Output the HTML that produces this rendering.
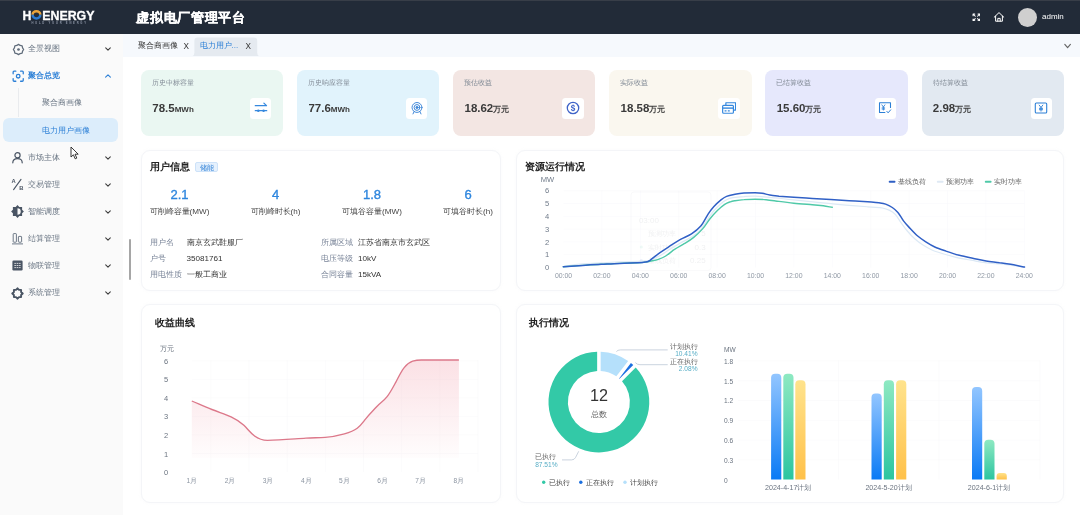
<!DOCTYPE html>
<html lang="zh">
<head>
<meta charset="utf-8">
<title>虚拟电厂管理平台</title>
<style>
*{box-sizing:border-box;margin:0;padding:0}
html,body{width:1080px;height:515px;overflow:hidden;background:#fff}
body{will-change:transform;font-family:"Liberation Sans",sans-serif;color:#333;position:relative;font-size:8px;line-height:1}
.abs{position:absolute}
#hdr{position:absolute;left:0;top:0;width:1080px;height:34px;background:#222b38}
#hdr .title{position:absolute;left:136.4px;top:9.5px;font-size:13.4px;font-weight:bold;color:#fff;line-height:15px;white-space:nowrap;letter-spacing:0.65px;-webkit-text-stroke:0.25px #fff}
#side{position:absolute;left:0;top:34px;width:122.5px;height:481px;background:#fafafa}
#tabs{position:absolute;left:122.5px;top:34px;width:957.5px;height:22.6px;background:#f6f9fd}
.mi{position:absolute;left:0;width:122px;height:27px;margin-top:0.1px}
.mi .tx{position:absolute;left:28px;top:9px;font-size:8px;line-height:9px;color:#687482;white-space:nowrap}
.mi svg.ic{position:absolute;left:11.4px;top:7.1px;width:13px;height:13px}
.mi svg.ch{position:absolute;left:104px;top:10px;width:8px;height:8px}
.card{position:absolute;top:69.8px;width:142.3px;height:66px;border-radius:8px}
.card .lb{position:absolute;left:11px;top:9.2px;font-size:6.65px;line-height:8px;color:#828b96;white-space:nowrap}
.card .vl{position:absolute;left:11.3px;top:31.2px;font-size:11.5px;line-height:14px;font-weight:bold;color:#3a3a3a;white-space:nowrap}
.card .vl small{font-size:8px;font-weight:bold}
.card .ib{position:absolute;left:109.2px;top:27.9px;width:21.2px;height:21px;border-radius:3.5px;background:#fff}
.card .ib svg{position:absolute;left:3.6px;top:3.5px;width:14px;height:14px}
.panel{position:absolute;background:#fff;border:1px solid #f4f5f8;border-radius:9px;box-shadow:0 0 3px rgba(215,220,230,.15)}
.pt{position:absolute;font-size:10px;line-height:12px;font-weight:bold;color:#222;white-space:nowrap}
.t{position:absolute;white-space:nowrap}
.c{transform:translateX(-50%)}
.r{transform:translateX(-100%)}
.num{font-size:13px;line-height:14px;color:#2e86de;-webkit-text-stroke:0.35px #2e86de;top:187.6px}
.lat{font-size:8.1px}
</style>
</head>
<body>
<!-- HEADER -->
<div id="hdr">
  <div class="abs" style="left:0;top:0;width:1080px;height:1px;background:#383e48"></div>
  <svg class="abs" style="left:20px;top:6px" width="80" height="22" viewBox="0 0 80 22">
    <text x="2.6" y="13.5" font-family="Liberation Sans, sans-serif" font-weight="bold" font-size="12.3" fill="#fff" stroke="#fff" stroke-width="0.3">H</text>
    <path d="M12.6 8.8 A3.85 3.6 0 0 1 20.3 8.8" fill="none" stroke="#eaa43c" stroke-width="2.5"/>
    <path d="M12.6 8.8 A3.85 3.6 0 0 0 20.3 8.8" fill="none" stroke="#2b7bd2" stroke-width="2.5"/>
    <text x="22.2" y="13.5" font-family="Liberation Sans, sans-serif" font-weight="bold" font-size="12.3" fill="#fff" stroke="#fff" stroke-width="0.3" textLength="52.3" lengthAdjust="spacingAndGlyphs">ENERGY</text>
    <text x="11.4" y="17.9" font-family="Liberation Sans, sans-serif" font-weight="bold" font-size="2.7" fill="#8f98a8" textLength="54.6" lengthAdjust="spacing">HOLD YOUR ENERGY</text>
  </svg>
  <div class="title">虚拟电厂管理平台</div>
  <!-- fullscreen -->
  <svg class="abs" style="left:971.5px;top:12.7px" width="8.8" height="8.8" viewBox="0 0 10 10" fill="none" stroke="#fff" stroke-width="1.15" stroke-linecap="round" stroke-linejoin="round">
    <path d="M1.2 3.2V1.2H3.2M1.4 1.4L3.7 3.7M6.8 1.2H8.8V3.2M8.6 1.4L6.3 3.7M1.2 6.8V8.8H3.2M1.4 8.6L3.7 6.3M6.8 8.8H8.8V6.8M8.6 8.6L6.3 6.3"/>
  </svg>
  <!-- home -->
  <svg class="abs" style="left:993.1px;top:11.1px" width="12" height="12" viewBox="0 0 12 12" fill="none" stroke="#fff" stroke-width="1" stroke-linejoin="round" stroke-linecap="round">
    <path d="M1.2 6.2L6 1.6L10.8 6.2M2.6 5.2V10.2H9.4V5.2M4.8 10.2V7.4H7.2V10.2"/>
  </svg>
  <div class="abs" style="left:1017.5px;top:7.5px;width:19px;height:19px;border-radius:50%;background:#cfcfcf"></div>
  <div class="t" style="left:1042px;top:12px;font-size:8px;line-height:10px;color:#fff">admin</div>
</div>

<!-- SIDEBAR -->
<div id="side">
  <div class="mi" style="top:1.00px">
    <svg class="ic" style="top:7.6px;left:11.8px" viewBox="0 0 13 13" fill="none" stroke="#5f6b7a" stroke-width="1.25" stroke-linejoin="round"><path d="M6.50 1.35L8.18 2.43L10.14 2.86L10.57 4.82L11.65 6.50L10.57 8.18L10.14 10.14L8.18 10.57L6.50 11.65L4.82 10.57L2.86 10.14L2.43 8.18L1.35 6.50L2.43 4.82L2.86 2.86L4.82 2.43Z"/><circle cx="6.5" cy="6.5" r="1.35" fill="#5f6b7a" stroke="none"/></svg>
    <div class="tx">全景视图</div>
    <svg class="ch" viewBox="0 0 8 8" fill="none" stroke="#3c3c3c" stroke-width="1.1" stroke-linecap="round" stroke-linejoin="round"><path d="M1.7 2.9L4 5.1L6.3 2.9"/></svg>
  </div>
  <div class="mi" style="top:28.15px">
    <svg class="ic" style="top:7.8px;left:12px;width:12.4px;height:12.4px" viewBox="0 0 13 13" fill="none" stroke="#2b7fd6" stroke-width="1.35" stroke-linecap="round"><path d="M1.2 4V2.2Q1.2 1.2 2.2 1.2H4M9 1.2H10.8Q11.8 1.2 11.8 2.2V4M11.8 9V10.8Q11.8 11.8 10.8 11.8H9M4 11.8H2.2Q1.2 11.8 1.2 10.8V9"/><circle cx="6.5" cy="6.5" r="1.9"/></svg>
    <div class="tx" style="color:#2b7fd6;font-weight:bold">聚合总览</div>
    <svg class="ch" viewBox="0 0 8 8" fill="none" stroke="#2b7fd6" stroke-width="1.1" stroke-linecap="round" stroke-linejoin="round"><path d="M1.6 5.2L4 2.8L6.4 5.2"/></svg>
  </div>
  <div class="abs" style="left:18px;top:54px;width:1px;height:29px;background:#e9ebee"></div>
  <div class="mi" style="top:55.30px"><div class="tx" style="left:41.6px">聚合商画像</div></div>
  <div class="abs" style="left:3px;top:84px;width:115px;height:23.5px;border-radius:6px;background:#dcedfb"></div>
  <div class="mi" style="top:82.45px"><div class="tx" style="left:41.6px;color:#2b7fd6">电力用户画像</div></div>
  <div class="mi" style="top:109.60px">
    <svg class="ic" viewBox="0 0 13 13" fill="none" stroke="#4a5564" stroke-width="1.2" stroke-linecap="round"><circle cx="6.5" cy="4.3" r="2.6"/><path d="M1.8 11.8Q1.8 7.6 6.5 7.6Q11.2 7.6 11.2 11.8"/></svg>
    <div class="tx">市场主体</div>
    <svg class="ch" viewBox="0 0 8 8" fill="none" stroke="#3c3c3c" stroke-width="1.1" stroke-linecap="round" stroke-linejoin="round"><path d="M1.7 2.9L4 5.1L6.3 2.9"/></svg>
  </div>
  <div class="mi" style="top:136.75px">
    <svg class="ic" viewBox="0 0 13 13" fill="none" stroke="#4a5564" stroke-width="1.1" stroke-linecap="round"><path d="M2.6 11.6L10 1.4"/><text x="0.6" y="5" font-family="Liberation Sans, sans-serif" font-weight="bold" font-size="5.8" fill="#4a5564" stroke="none">A</text><text x="8.2" y="12.4" font-family="Liberation Sans, sans-serif" font-weight="bold" font-size="5.8" fill="#4a5564" stroke="none">B</text></svg>
    <div class="tx">交易管理</div>
    <svg class="ch" viewBox="0 0 8 8" fill="none" stroke="#3c3c3c" stroke-width="1.1" stroke-linecap="round" stroke-linejoin="round"><path d="M1.7 2.9L4 5.1L6.3 2.9"/></svg>
  </div>
  <div class="mi" style="top:163.90px">
    <svg class="ic" viewBox="0 0 13 13"><path d="M6.5 0.1L8.3 1.9H11.1V4.7L12.9 6.5L11.1 8.3V11.1H8.3L6.5 12.9L4.7 11.1H1.9V8.3L0.1 6.5L1.9 4.7V1.9H4.7Z" fill="#4a5564"/><path d="M6.5 3.3A3.2 3.2 0 0 1 6.5 9.7Z" fill="#fafafa"/></svg>
    <div class="tx">智能调度</div>
    <svg class="ch" viewBox="0 0 8 8" fill="none" stroke="#3c3c3c" stroke-width="1.1" stroke-linecap="round" stroke-linejoin="round"><path d="M1.7 2.9L4 5.1L6.3 2.9"/></svg>
  </div>
  <div class="mi" style="top:191.05px">
    <svg class="ic" viewBox="0 0 13 13" fill="none" stroke="#5f6b7a" stroke-width="0.9"><rect x="2.2" y="1.6" width="3.2" height="8.6" rx="0.6"/><rect x="7.4" y="4.4" width="3.2" height="5.8" rx="0.6"/><path d="M1 11.9H12"/></svg>
    <div class="tx">结算管理</div>
    <svg class="ch" viewBox="0 0 8 8" fill="none" stroke="#3c3c3c" stroke-width="1.1" stroke-linecap="round" stroke-linejoin="round"><path d="M1.7 2.9L4 5.1L6.3 2.9"/></svg>
  </div>
  <div class="mi" style="top:218.20px">
    <svg class="ic" viewBox="0 0 13 13"><rect x="1.4" y="1.6" width="10.2" height="9.8" rx="1.2" fill="#4a5564"/><path d="M3.4 4.4H9.6M3.4 6.5H9.6M3.4 8.6H9.6" stroke="#fafafa" stroke-width="0.8"/><path d="M5.4 3.4V9.6M7.6 3.4V9.6" stroke="#4a5564" stroke-width="0.7"/></svg>
    <div class="tx">物联管理</div>
    <svg class="ch" viewBox="0 0 8 8" fill="none" stroke="#3c3c3c" stroke-width="1.1" stroke-linecap="round" stroke-linejoin="round"><path d="M1.7 2.9L4 5.1L6.3 2.9"/></svg>
  </div>
  <div class="mi" style="top:245.35px">
    <svg class="ic" viewBox="0 0 13 13" fill="none" stroke="#4a5564" stroke-width="1.9" stroke-linejoin="round"><path d="M6.5 1.3L8 2.9H10.1V5L11.7 6.5L10.1 8V10.1H8L6.5 11.7L5 10.1H2.9V8L1.3 6.5L2.9 5V2.9H5Z"/></svg>
    <div class="tx">系统管理</div>
    <svg class="ch" viewBox="0 0 8 8" fill="none" stroke="#3c3c3c" stroke-width="1.1" stroke-linecap="round" stroke-linejoin="round"><path d="M1.7 2.9L4 5.1L6.3 2.9"/></svg>
  </div>
  <!-- mouse cursor -->
  <svg class="abs" style="left:70px;top:112px" width="10" height="14" viewBox="0 0 10 14"><path d="M1 1V11L3.4 8.8L5.2 12.8L6.8 12.1L5 8.2H8.2Z" fill="#fff" stroke="#222" stroke-width="0.9" stroke-linejoin="round"/></svg>
</div>

<!-- TABS -->
<div id="tabs">
  <div class="t" style="left:15px;top:7px;font-size:8px;line-height:9px;color:#333">聚合商画像</div>
  <div class="t" style="left:60.9px;top:7.9px;font-size:8.2px;line-height:9px;color:#333">X</div>
  <svg class="abs" style="left:68px;top:3px" width="70" height="19.3" viewBox="0 0 70 19.3"><path d="M0.8 19.3 Q3.4 18.6 3.4 15.6 V3.6 Q3.4 0.4 6.6 0.4 H63 Q66.2 0.4 66.2 3.6 V15.6 Q66.2 18.6 68.8 19.3 Z" fill="#e5eaf0"/></svg>
  <div class="t" style="left:77px;top:7px;font-size:8px;line-height:9px;color:#2b7fd6">电力用户...</div>
  <div class="t" style="left:123.1px;top:7.9px;font-size:8.2px;line-height:9px;color:#333">X</div>
  <svg class="abs" style="left:940px;top:8px" width="9" height="8" viewBox="0 0 9 8" fill="none" stroke="#666" stroke-width="1.15" stroke-linecap="round" stroke-linejoin="round"><path d="M1.8 2.4L4.6 5.7L7.4 2.4"/></svg>
</div>

<!-- scrollbar thumb -->
<div class="abs" style="left:128.7px;top:239px;width:2px;height:40.5px;background:#a6a6a6;border-radius:1px"></div>

<!-- KPI CARDS -->
<div class="card" style="left:141px;background:#eaf7f2">
  <div class="lb">历史中标容量</div><div class="vl">78.5<small>MWh</small></div>
  <div class="ib"><svg viewBox="0 0 13 13" fill="none" stroke="#3588de" stroke-width="1.2" stroke-linecap="round" stroke-linejoin="round"><path d="M1.2 4.3H11.6L9.2 2M11.8 9H1.2"/><circle cx="4" cy="9" r="1.15" fill="#3588de" stroke="none"/><circle cx="8.9" cy="9" r="1.15" fill="#3588de" stroke="none"/></svg></div>
</div>
<div class="card" style="left:297.1px;background:#e1f3fc">
  <div class="lb">历史响应容量</div><div class="vl">77.6<small>MWh</small></div>
  <div class="ib"><svg viewBox="0 0 13 13" fill="none" stroke="#3d86d8" stroke-width="0.9" stroke-linecap="round"><circle cx="6.5" cy="6" r="4.6"/><circle cx="6.5" cy="6" r="2.7"/><circle cx="6.5" cy="6" r="1" fill="#3d86d8"/><path d="M3.8 9.8L2.8 12M9.2 9.8L10.2 12"/></svg></div>
</div>
<div class="card" style="left:453.2px;background:#f3e6e3">
  <div class="lb">预估收益</div><div class="vl">18.62<small>万元</small></div>
  <div class="ib"><svg viewBox="0 0 13 13" fill="none" stroke="#3f63c8" stroke-width="1.2"><circle cx="6.5" cy="6.5" r="5.3"/><text x="6.5" y="9.3" text-anchor="middle" font-family="Liberation Sans, sans-serif" font-weight="bold" font-size="7.6" fill="#3f63c8" stroke="none">$</text></svg></div>
</div>
<div class="card" style="left:609.3px;background:#faf7ef">
  <div class="lb">实际收益</div><div class="vl">18.58<small>万元</small></div>
  <div class="ib"><svg viewBox="0 0 13 13" fill="none" stroke="#3588de" stroke-width="1.1" stroke-linejoin="round"><path d="M3.6 3.8V1.6H12.6V8.4H10.6"/><rect x="0.6" y="4" width="10" height="7.4" rx="0.9"/><path d="M0.6 6.6H10.6" stroke-width="1.3"/><path d="M2.4 9.2H4.2M5.4 9.2H7.2" stroke-width="1.2"/></svg></div>
</div>
<div class="card" style="left:765.4px;background:#e6e8fc">
  <div class="lb">已结算收益</div><div class="vl">15.60<small>万元</small></div>
  <div class="ib"><svg viewBox="0 0 13 13" fill="none" stroke="#2b7fd6" stroke-width="1" stroke-linejoin="round" stroke-linecap="round"><path d="M11.6 6V1.6H1.4V10.6H6.4"/><path d="M3.6 3.6L5 5.6L6.4 3.6M5 5.6V8.4M3.8 6.4H6.2M3.8 7.5H6.2" stroke-width="0.8"/><path d="M8.2 9.6L9.4 11L11.8 8.2" stroke-width="0.9"/></svg></div>
</div>
<div class="card" style="left:921.5px;background:#e2e9f1">
  <div class="lb">待结算收益</div><div class="vl">2.98<small>万元</small></div>
  <div class="ib"><svg viewBox="0 0 13 13" fill="none" stroke="#2b7fd6" stroke-width="1" stroke-linejoin="round" stroke-linecap="round"><rect x="1.2" y="1.8" width="10.6" height="9.4" rx="1"/><path d="M4.8 3.8L6.5 6L8.2 3.8M6.5 6V9.4M5 6.8H8M5 8.1H8" stroke-width="0.85"/></svg></div>
</div>

<!-- USER INFO PANEL -->
<div class="panel" style="left:140.6px;top:149.5px;width:360.4px;height:141px"></div>
<div class="pt" style="left:150px;top:160.5px">用户信息</div>
<div class="abs" style="left:195px;top:162.3px;width:22.5px;height:10px;border-radius:2px;background:#e6f1fd;border:0.5px solid #cde2f9"></div>
<div class="t" style="left:199.5px;top:163.5px;font-size:6.5px;line-height:7px;color:#2b7fd6">储能</div>
<div class="t c num" style="left:179.5px">2.1</div>
<div class="t c num" style="left:275.5px">4</div>
<div class="t c num" style="left:372px">1.8</div>
<div class="t c num" style="left:468px">6</div>
<div class="t c" style="left:179.5px;top:207.3px;font-size:8.1px;line-height:9px;color:#444">可削峰容量(MW)</div>
<div class="t c" style="left:275.5px;top:207.3px;font-size:8.1px;line-height:9px;color:#444">可削峰时长(h)</div>
<div class="t c" style="left:372px;top:207.3px;font-size:8.1px;line-height:9px;color:#444">可填谷容量(MW)</div>
<div class="t c" style="left:468px;top:207.3px;font-size:8.1px;line-height:9px;color:#444">可填谷时长(h)</div>
<div class="t" style="left:150px;top:237.5px;font-size:7.5px;line-height:9px;color:#7a8599">用户名</div>
<div class="t" style="left:186.5px;top:237.5px;font-size:7.5px;line-height:9px;color:#333">南京玄武鞋服厂</div>
<div class="t" style="left:150px;top:253.5px;font-size:7.5px;line-height:9px;color:#7a8599">户号</div>
<div class="t" style="left:186.5px;top:253.5px;font-size:7.5px;line-height:9px;color:#333"><span class="lat">35081761</span></div>
<div class="t" style="left:150px;top:269.5px;font-size:7.5px;line-height:9px;color:#7a8599">用电性质</div>
<div class="t" style="left:186.5px;top:269.5px;font-size:7.5px;line-height:9px;color:#333">一般工商业</div>
<div class="t" style="left:321px;top:237.5px;font-size:7.5px;line-height:9px;color:#7a8599">所属区域</div>
<div class="t" style="left:358px;top:237.5px;font-size:7.5px;line-height:9px;color:#333">江苏省南京市玄武区</div>
<div class="t" style="left:321px;top:253.5px;font-size:7.5px;line-height:9px;color:#7a8599">电压等级</div>
<div class="t" style="left:358px;top:253.5px;font-size:7.5px;line-height:9px;color:#333"><span class="lat">10kV</span></div>
<div class="t" style="left:321px;top:269.5px;font-size:7.5px;line-height:9px;color:#7a8599">合同容量</div>
<div class="t" style="left:358px;top:269.5px;font-size:7.5px;line-height:9px;color:#333"><span class="lat">15kVA</span></div>

<!-- RESOURCE PANEL -->
<div class="panel" style="left:516px;top:149.5px;width:548px;height:141px"></div>
<div class="pt" style="left:525px;top:160.5px">资源运行情况</div>
<svg class="abs" style="left:516px;top:150px" width="548" height="141" viewBox="516 150 548 141">
  <g font-family="Liberation Sans, sans-serif" font-size="7.6" fill="#6f7a89" text-anchor="middle">
    <text x="547.5" y="181.7">MW</text>
    <text x="547" y="193.4">6</text>
    <text x="547" y="206.2">5</text>
    <text x="547" y="219.0">4</text>
    <text x="547" y="231.8">3</text>
    <text x="547" y="244.5">2</text>
    <text x="547" y="257.3">1</text>
    <text x="547" y="270.1">0</text>
  </g>
  <g font-family="Liberation Sans, sans-serif" font-size="6.9" fill="#8f98a4" text-anchor="middle">
    <text x="563.5" y="278">00:00</text>
    <text x="601.9" y="278">02:00</text>
    <text x="640.3" y="278">04:00</text>
    <text x="678.7" y="278">06:00</text>
    <text x="717.1" y="278">08:00</text>
    <text x="755.5" y="278">10:00</text>
    <text x="793.9" y="278">12:00</text>
    <text x="832.3" y="278">14:00</text>
    <text x="870.7" y="278">16:00</text>
    <text x="909.1" y="278">18:00</text>
    <text x="947.5" y="278">20:00</text>
    <text x="985.9" y="278">22:00</text>
    <text x="1024.3" y="278">24:00</text>
  </g>
  <g stroke="#f8f9fb" stroke-width="0.6">
    <path d="M563.5 190.7H1024.3M563.5 203.5H1024.3M563.5 216.3H1024.3M563.5 229.1H1024.3M563.5 241.8H1024.3M563.5 254.6H1024.3"/>
    <path d="M601.9 190.7V267.4M640.3 190.7V267.4M678.7 190.7V267.4M717.1 190.7V267.4M755.5 190.7V267.4M793.9 190.7V267.4M832.3 190.7V267.4M870.7 190.7V267.4M909.1 190.7V267.4M947.5 190.7V267.4M985.9 190.7V267.4M1024.3 190.7V267.4"/>
  </g>
  <g opacity="0.09" font-family="Liberation Sans, sans-serif" fill="#5a6270">
    <rect x="631" y="192" width="80" height="78.5" rx="3" fill="none" stroke="#7a8290" stroke-width="1" opacity="0.45"/>
    <text x="638.9" y="222.9" font-size="8">03:00</text>
    <text x="648" y="235.6" font-size="7.4">预测功率</text>
    <text x="705.7" y="235.6" font-size="8" text-anchor="end">5</text>
    <circle cx="641.3" cy="247" r="1.6" fill="#4fc9a8"/>
    <text x="648" y="249.6" font-size="7.4">实时功率</text>
    <text x="705.7" y="249.8" font-size="8" text-anchor="end">0.3</text>
    <circle cx="641.3" cy="260.5" r="1.6" fill="#3060c6"/>
    <text x="648" y="263.1" font-size="7.4">基线负荷</text>
    <text x="705.7" y="263.3" font-size="8" text-anchor="end">0.25</text>
  </g>
  <!-- predicted -->
  <path id="pred" fill="none" stroke="#dce9f5" stroke-width="1.2" stroke-linejoin="round" d="M563.3 266.7 C565.2 266.4 571.8 265.1 575.0 264.6 C578.2 264.1 578.4 264.2 582.7 263.9 C587.1 263.6 595.0 263.1 601.1 262.8 C607.2 262.5 613.5 262.1 619.6 261.9 C625.8 261.6 633.7 261.5 638.0 261.3 C642.3 261.1 643.4 261.1 645.4 260.9 C647.4 260.7 647.9 260.9 650.0 260.2 C652.1 259.5 655.1 258.4 658.3 256.6 C661.5 254.8 665.7 251.9 669.4 249.6 C673.1 247.3 676.8 245.1 680.5 243.0 C684.2 240.9 688.1 239.2 691.5 237.0 C694.9 234.8 698.0 232.7 700.8 229.6 C703.6 226.5 706.0 221.7 708.1 218.6 C710.2 215.5 711.6 213.5 713.7 211.0 C715.9 208.5 718.9 205.5 721.0 203.6 C723.1 201.7 724.6 200.8 726.6 199.8 C728.6 198.8 730.0 198.2 732.9 197.7 C735.8 197.2 740.3 196.8 744.0 196.6 C747.7 196.3 749.9 196.0 755.1 196.2 C760.3 196.4 769.0 197.3 775.4 197.9 C781.8 198.5 784.6 199.0 793.8 199.9 C803.0 200.8 818.4 202.4 830.7 203.6 C843.0 204.8 859.0 206.1 867.6 206.8 C876.2 207.5 878.7 207.4 882.4 208.0 C886.1 208.6 887.5 209.3 889.7 210.4 C891.9 211.5 893.6 212.6 895.5 214.6 C897.4 216.6 899.0 219.9 901.0 222.6 C903.0 225.3 905.0 228.3 907.3 231.0 C909.6 233.7 912.4 236.7 915.0 239.0 C917.6 241.3 920.2 243.2 923.0 245.0 C925.8 246.8 928.7 248.5 932.0 250.0 C935.3 251.5 938.8 252.5 943.0 253.8 C947.2 255.1 952.3 256.5 957.0 257.6 C961.7 258.7 966.3 259.4 971.0 260.2 C975.7 261.0 980.2 262.0 985.0 262.6 C989.8 263.2 995.2 263.6 999.5 264.0 C1003.8 264.4 1006.5 264.7 1010.7 265.2 C1014.9 265.7 1022.2 266.8 1024.5 267.1"/>
  <!-- realtime -->
  <path fill="none" stroke="#4fc9a8" stroke-width="1.4" stroke-linejoin="round" stroke-linecap="round" d="M563.3 266.7 C566.5 266.5 576.4 265.8 582.7 265.4 C589.0 265.0 595.0 264.6 601.1 264.3 C607.2 264.0 613.5 263.6 619.6 263.4 C625.8 263.1 633.7 263.0 638.0 262.8 C642.3 262.6 643.4 262.4 645.4 262.1 C647.4 261.8 647.9 261.7 650.0 261.2 C652.1 260.7 655.7 260.2 658.3 259.3 C660.9 258.4 662.9 257.7 665.7 256.0 C668.5 254.3 671.8 251.2 674.9 249.2 C678.0 247.1 681.1 245.6 684.2 243.7 C687.3 241.8 690.3 240.1 693.4 237.6 C696.5 235.1 699.8 232.1 702.6 228.9 C705.4 225.8 707.5 221.8 710.0 218.7 C712.5 215.6 714.9 212.8 717.4 210.4 C719.9 208.0 722.6 205.7 724.7 204.3 C726.9 202.9 728.6 202.4 730.3 201.8 C732.0 201.2 732.7 201.1 735.0 200.7 C737.3 200.3 740.6 199.8 744.0 199.6 C747.4 199.3 751.4 199.2 755.1 199.2 C758.8 199.2 762.1 199.3 766.1 199.7 C770.1 200.1 774.4 200.8 779.0 201.4 C783.6 202.0 788.2 202.6 793.8 203.2 C799.3 203.8 807.4 204.3 812.3 204.7 C817.2 205.1 820.0 205.4 823.3 205.8 C826.6 206.2 830.7 207.1 832.2 207.3"/>
  <!-- baseline -->
  <path fill="none" stroke="#3060c6" stroke-width="1.5" stroke-linejoin="round" stroke-linecap="round" d="M563.3 266.7 C566.5 266.5 576.4 265.8 582.7 265.4 C589.0 265.0 595.0 264.6 601.1 264.3 C607.2 264.0 613.5 263.6 619.6 263.4 C625.8 263.1 633.7 263.0 638.0 262.8 C642.3 262.6 643.4 262.5 645.4 262.1 C647.4 261.7 647.9 261.7 650.0 260.3 C652.1 258.9 655.1 256.1 658.3 253.8 C661.5 251.5 665.7 248.8 669.4 246.4 C673.1 244.0 676.8 241.5 680.5 239.4 C684.2 237.3 688.1 236.1 691.5 233.9 C694.9 231.7 698.0 229.4 700.8 226.1 C703.6 222.8 706.0 217.3 708.1 214.1 C710.2 210.9 711.6 209.2 713.7 206.8 C715.9 204.4 718.9 201.6 721.0 199.9 C723.1 198.2 724.3 197.3 726.6 196.4 C728.9 195.5 732.1 194.9 735.0 194.3 C737.9 193.8 740.6 193.4 744.0 193.1 C747.4 192.8 752.0 192.7 755.1 192.7 C758.2 192.7 760.0 192.9 762.4 193.3 C764.8 193.7 767.0 194.6 769.8 195.1 C772.6 195.6 775.0 195.8 779.0 196.2 C783.0 196.5 788.2 196.8 793.8 197.2 C799.3 197.6 806.1 198.1 812.3 198.5 C818.4 198.9 824.6 199.2 830.7 199.6 C836.9 200.0 843.1 200.3 849.2 200.7 C855.4 201.1 862.7 201.5 867.6 201.8 C872.5 202.2 875.9 202.4 878.9 202.8 C881.9 203.2 883.4 203.3 885.6 204.1 C887.8 204.9 890.2 206.1 892.3 207.5 C894.3 208.9 896.0 210.2 897.9 212.4 C899.8 214.6 901.5 218.2 903.5 220.9 C905.5 223.6 907.8 225.9 910.2 228.5 C912.6 231.1 915.4 234.1 918.0 236.3 C920.6 238.5 923.0 240.1 925.8 241.9 C928.6 243.7 931.4 245.5 934.8 247.0 C938.1 248.5 941.8 249.7 945.9 251.1 C950.0 252.5 954.8 254.1 959.3 255.3 C963.8 256.5 968.2 257.3 972.7 258.2 C977.2 259.1 981.6 260.1 986.1 260.9 C990.6 261.6 995.4 262.1 999.5 262.7 C1003.6 263.2 1006.5 263.5 1010.7 264.2 C1014.9 264.9 1022.2 266.6 1024.5 267.1"/>
  <!-- legend -->
  <rect x="888.7" y="180.8" width="6.8" height="1.9" rx="0.9" fill="#2f5fc4"/>
  <rect x="936.8" y="180.8" width="6.8" height="1.9" rx="0.9" fill="#dfe9f4"/>
  <rect x="984.8" y="180.8" width="6.8" height="1.9" rx="0.9" fill="#4fc9a8"/>
  <g font-family="Liberation Sans, sans-serif" font-size="6.6" fill="#666">
    <text x="898.3" y="184.2">基线负荷</text>
    <text x="946.4" y="184.2">预测功率</text>
    <text x="994.4" y="184.2">实时功率</text>
  </g>
</svg>

<!-- REVENUE PANEL -->
<div class="panel" style="left:140.6px;top:303.5px;width:360.4px;height:199px"></div>
<div class="pt" style="left:155px;top:317px">收益曲线</div>
<svg class="abs" style="left:141px;top:304px" width="360" height="199" viewBox="141 304 360 199">
  <defs>
    <linearGradient id="rg" x1="0" y1="360" x2="0" y2="458" gradientUnits="userSpaceOnUse">
      <stop offset="0" stop-color="#f08a9a" stop-opacity="0.26"/>
      <stop offset="1" stop-color="#f08a9a" stop-opacity="0.02"/>
    </linearGradient>
  </defs>
  <g font-family="Liberation Sans, sans-serif" font-size="7.5" fill="#6b7480">
    <text x="167.4" y="351.4" text-anchor="middle" font-size="6.9">万元</text>
    <text x="166" y="363.8" text-anchor="middle">6</text>
    <text x="166" y="382.3" text-anchor="middle">5</text>
    <text x="166" y="400.9" text-anchor="middle">4</text>
    <text x="166" y="419.4" text-anchor="middle">3</text>
    <text x="166" y="437.9" text-anchor="middle">2</text>
    <text x="166" y="456.5" text-anchor="middle">1</text>
    <text x="166" y="475.0" text-anchor="middle">0</text>
  </g>
  <g font-family="Liberation Sans, sans-serif" font-size="6.6" fill="#8a93a0">
    <text x="191.8" y="482.8" text-anchor="middle">1月</text>
    <text x="230" y="482.8" text-anchor="middle">2月</text>
    <text x="268.1" y="482.8" text-anchor="middle">3月</text>
    <text x="306.3" y="482.8" text-anchor="middle">4月</text>
    <text x="344.4" y="482.8" text-anchor="middle">5月</text>
    <text x="382.6" y="482.8" text-anchor="middle">6月</text>
    <text x="420.7" y="482.8" text-anchor="middle">7月</text>
    <text x="458.9" y="482.8" text-anchor="middle">8月</text>
  </g>
  <g stroke="#f8f8fa" stroke-width="0.6">
    <path d="M191.8 360.8H478M191.8 379.3H478M191.8 397.9H478M191.8 416.4H478M191.8 434.9H478M191.8 453.5H478"/>
    <path d="M210.9 360V472M249 360V472M287.2 360V472M325.3 360V472M363.5 360V472M401.6 360V472M439.8 360V472M478 360V472"/>
  </g>
  <path fill="url(#rg)" d="M191.8 401 C200 404.5 205 406.8 211.9 409.5 C220 412.6 226 414.4 231.1 416.8 C237 419.6 240.5 422 243.9 425.3 C248 429.3 250 432.6 254.6 436 C259 439.2 262.5 440.3 267.4 440.3 C280 440.3 293 439 305.9 438.2 C313 437.8 318 437.7 325.1 437.3 C332 436.9 338.5 435.6 344.4 433.9 C349.5 432.4 353.5 431 357.2 428.3 C361 425.5 362.8 422.6 365.7 418.9 C369.5 414.1 372.8 411 376.4 407 C380.3 402.7 383.8 401 387.1 396.7 C390.6 392.1 392.8 387.8 395.6 382.6 C398.6 377 401 371.6 404.2 367.6 C407.2 363.9 409.5 362.2 412.7 361.2 C416 360.2 418 360 421.3 360 L458.9 360 L458.9 458 L191.8 458 Z"/>
  <path fill="none" stroke="#dc788a" stroke-width="1.35" stroke-linejoin="round" d="M191.8 401 C200 404.5 205 406.8 211.9 409.5 C220 412.6 226 414.4 231.1 416.8 C237 419.6 240.5 422 243.9 425.3 C248 429.3 250 432.6 254.6 436 C259 439.2 262.5 440.3 267.4 440.3 C280 440.3 293 439 305.9 438.2 C313 437.8 318 437.7 325.1 437.3 C332 436.9 338.5 435.6 344.4 433.9 C349.5 432.4 353.5 431 357.2 428.3 C361 425.5 362.8 422.6 365.7 418.9 C369.5 414.1 372.8 411 376.4 407 C380.3 402.7 383.8 401 387.1 396.7 C390.6 392.1 392.8 387.8 395.6 382.6 C398.6 377 401 371.6 404.2 367.6 C407.2 363.9 409.5 362.2 412.7 361.2 C416 360.2 418 360 421.3 360 L458.9 360"/>
</svg>

<!-- EXECUTION PANEL -->
<div class="panel" style="left:516px;top:303.5px;width:548px;height:199px"></div>
<div class="pt" style="left:529px;top:317px">执行情况</div>
<svg class="abs" style="left:516px;top:304px" width="548" height="199" viewBox="516 304 548 199">
  <defs>
    <linearGradient id="gb" x1="0" y1="0" x2="0" y2="1"><stop offset="0" stop-color="#93c6ff"/><stop offset="1" stop-color="#0a7af5"/></linearGradient>
    <linearGradient id="gg" x1="0" y1="0" x2="0" y2="1"><stop offset="0" stop-color="#8ee9c2"/><stop offset="1" stop-color="#2cc5a0"/></linearGradient>
    <linearGradient id="gy" x1="0" y1="0" x2="0" y2="1"><stop offset="0" stop-color="#ffe38c"/><stop offset="1" stop-color="#ffc14a"/></linearGradient>
  </defs>
  <!-- donut: center 599.2,405.4 r mid 41 width 20 -->
  <g id="donut">
    <path fill="#b5e0fb" d="M600.65 351.63 A50.4 50.4 0 0 1 628.16 360.96 L616.34 376.37 A31.0 31.0 0 0 0 600.65 371.05 Z"/>
    <path fill="#1a6fe0" d="M630.93 363.09 A50.4 50.4 0 0 1 633.26 365.12 L619.53 378.86 A31.0 31.0 0 0 0 619.12 378.50 Z"/>
    <path fill="#33c9a7" d="M635.73 367.60 A50.4 50.4 0 1 1 597.15 351.63 L597.15 371.05 A31.0 31.0 0 1 0 622.01 381.34 Z"/>
  </g>
  <g font-family="Liberation Sans, sans-serif" text-anchor="middle">
    <text x="598.9" y="401.2" font-size="16.2" fill="#333">12</text>
    <text x="598.6" y="417.3" font-size="8.4" fill="#5a5a5a">总数</text>
  </g>
  <g fill="none" stroke="#bcc8d6" stroke-width="0.8">
    <path d="M616.4 351.6 Q617.6 349.9 620.4 349.9 H667.7"/>
    <path d="M635.4 362.6 Q637 364.7 640 364.7 H667.7"/>
    <path d="M578.7 451.3 L575.6 457.4 Q574.4 459.9 571.6 459.9 H562"/>
  </g>
  <g font-family="Liberation Sans, sans-serif" font-size="6.6">
    <text x="697.5" y="349.1" text-anchor="end" fill="#666">计划执行</text>
    <text x="697.5" y="355.9" text-anchor="end" fill="#58aec6">10.41%</text>
    <text x="697.5" y="364.2" text-anchor="end" fill="#666">正在执行</text>
    <text x="697.5" y="370.6" text-anchor="end" fill="#58aec6">2.08%</text>
    <text x="535.2" y="459.2" fill="#666">已执行</text>
    <text x="535.2" y="466.6" fill="#58aec6">87.51%</text>
  </g>
  <circle cx="543.7" cy="482.2" r="1.7" fill="#33c9a7"/>
  <circle cx="580.8" cy="482.2" r="1.7" fill="#1a6fe0"/>
  <circle cx="625" cy="482.2" r="1.7" fill="#b5e0fb"/>
  <g font-family="Liberation Sans, sans-serif" font-size="6.9" fill="#444">
    <text x="549" y="484.7">已执行</text>
    <text x="586" y="484.7">正在执行</text>
    <text x="629.8" y="484.7">计划执行</text>
  </g>
  <!-- bar chart -->
  <g transform="translate(0 0.5)">
  <g font-family="Liberation Sans, sans-serif" font-size="6.6" fill="#6b7480">
    <text x="724" y="351.6">MW</text>
    <text x="724" y="363.2">1.8</text>
    <text x="724" y="383">1.5</text>
    <text x="724" y="402.8">1.2</text>
    <text x="724" y="422.6">0.9</text>
    <text x="724" y="442.4">0.6</text>
    <text x="724" y="462.2">0.3</text>
    <text x="724" y="482">0</text>
  </g>
  <g stroke="#f8f8fa" stroke-width="0.6">
    <path d="M738 360.4H1040M738 380.2H1040M738 400H1040M738 419.8H1040M738 439.6H1040M738 459.4H1040"/>
    <path d="M838.5 360V479M939 360V479M1040 360V479"/>
  </g>
  <g>
    <path fill="url(#gb)" d="M771.1 479V377.2a4 4 0 0 1 4-4h2.2a4 4 0 0 1 4 4V479Z"/>
    <path fill="url(#gg)" d="M783.3 479V377.2a4 4 0 0 1 4-4h2.2a4 4 0 0 1 4 4V479Z"/>
    <path fill="url(#gy)" d="M795.3 479V383.8a4 4 0 0 1 4-4h2.2a4 4 0 0 1 4 4V479Z"/>
    <path fill="url(#gb)" d="M871.5 479V397a4 4 0 0 1 4-4h2.2a4 4 0 0 1 4 4V479Z"/>
    <path fill="url(#gg)" d="M883.8 479V383.8a4 4 0 0 1 4-4h2.2a4 4 0 0 1 4 4V479Z"/>
    <path fill="url(#gy)" d="M896.1 479V383.8a4 4 0 0 1 4-4h2.2a4 4 0 0 1 4 4V479Z"/>
    <path fill="url(#gb)" d="M972 479V390.4a4 4 0 0 1 4-4h2.2a4 4 0 0 1 4 4V479Z"/>
    <path fill="url(#gg)" d="M984.3 479V443.2a4 4 0 0 1 4-4h2.2a4 4 0 0 1 4 4V479Z"/>
    <path fill="url(#gy)" d="M996.6 479V475.4a3 3 0 0 1 3-3h4.2a3 3 0 0 1 3 3V479Z"/>
  </g>
  </g>
  <g font-family="Liberation Sans, sans-serif" font-size="7.1" fill="#6b7480" text-anchor="middle">
    <text x="788.2" y="490">2024-4-17计划</text>
    <text x="888.6" y="490">2024-5-20计划</text>
    <text x="989" y="490">2024-6-1计划</text>
  </g>
</svg>
</body>
</html>
